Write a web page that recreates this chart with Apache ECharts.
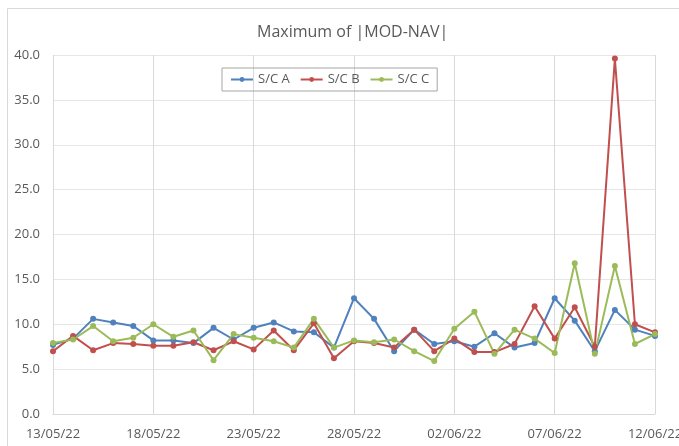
<!DOCTYPE html>
<html>
<head>
<meta charset="utf-8">
<script src="https://cdn.jsdelivr.net/npm/echarts@6/dist/echarts.min.js"></script>
<style>html,body{margin:0;padding:0;background:#fff;}#c{width:679px;height:446px;}</style>
</head>
<body>
<div id="c"></div>
<script>
const categories = ["13/05/22","14/05/22","15/05/22","16/05/22","17/05/22","18/05/22","19/05/22","20/05/22","21/05/22","22/05/22","23/05/22","24/05/22","25/05/22","26/05/22","27/05/22","28/05/22","29/05/22","30/05/22","31/05/22","01/06/22","02/06/22","03/06/22","04/06/22","05/06/22","06/06/22","07/06/22","08/06/22","09/06/22","10/06/22","11/06/22","12/06/22"];
const scA = [7.7,8.4,10.6,10.2,9.8,8.2,8.2,7.9,9.6,8.3,9.6,10.2,9.2,9.1,7.4,12.9,10.6,7.0,9.4,7.8,8.1,7.5,9.0,7.4,7.9,12.9,10.4,7.0,11.6,9.4,8.7];
const scB = [7.0,8.7,7.1,7.9,7.8,7.6,7.6,8.0,7.1,8.1,7.2,9.3,7.1,10.1,6.2,8.1,7.9,7.4,9.4,7.0,8.4,6.9,6.9,7.8,12.0,8.4,11.9,7.5,39.6,10.0,9.1];
const scC = [7.9,8.3,9.8,8.1,8.5,10.0,8.6,9.3,6.0,8.9,8.5,8.1,7.4,10.6,7.4,8.2,8.0,8.3,7.0,5.9,9.5,11.4,6.7,9.4,8.4,6.8,16.8,6.7,16.5,7.8,8.9];
const seriesNames = ["S/C A","S/C B","S/C C"];
const colors = ["#4F81BD","#C0504D","#9BBB59"];
const yTicks = {min:0, max:40, interval:5};

const font = "'Open Sans', 'Noto Sans', sans-serif";
const chart = echarts.init(document.getElementById('c'), null, {renderer:'canvas'});
const mk = (name, data, color) => ({
  name, type:'line', data, color,
  symbol:'circle', symbolSize:6,
  lineStyle:{width:2, color},
  itemStyle:{color},
  animation:false
});
chart.setOption({
  animation:false,
  backgroundColor:'#fff',
  graphic:[{type:'rect', shape:{x:7.5,y:8.5,width:700,height:460}, style:{fill:'none', stroke:'#d9d9d9', lineWidth:1}, silent:true, z:-1}],
  title:{text:'Maximum of |MOD-NAV|', left:252, top:19, textStyle:{fontFamily:font, fontSize:16, fontWeight:'normal', color:'#595959'}},
  legend:{
    data:seriesNames, left:222, top:68, padding:[5,8,5,8],
    borderColor:'#a6a6a6', borderWidth:1, itemWidth:22, itemHeight:6, itemGap:10,
    textStyle:{fontFamily:font, fontSize:13, color:'#595959'}
  },
  grid:{left:53, right:24, top:55, bottom:32, containLabel:false, outerBoundsMode:'none'},
  xAxis:{
    type:'category', data:categories, boundaryGap:false,
    axisLine:{lineStyle:{color:'#d9d9d9'}},
    axisTick:{show:false},
    axisLabel:{interval:4, color:'#595959', fontFamily:font, fontSize:13, margin:14, showMaxLabel:true, hideOverlap:false},
    splitLine:{show:true, interval:4, lineStyle:{color:'#d9d9d9', width:1}}
  },
  yAxis:{
    type:'value', min:yTicks.min, max:yTicks.max, interval:yTicks.interval,
    axisLine:{show:false}, axisTick:{show:false},
    axisLabel:{color:'#595959', fontFamily:font, fontSize:13, margin:13, formatter:v=>v.toFixed(1)},
    splitLine:{lineStyle:{color:'#e6e6e6', width:1}}
  },
  series:[mk(seriesNames[0],scA,colors[0]), mk(seriesNames[1],scB,colors[1]), mk(seriesNames[2],scC,colors[2])]
});
</script>
</body>
</html>
